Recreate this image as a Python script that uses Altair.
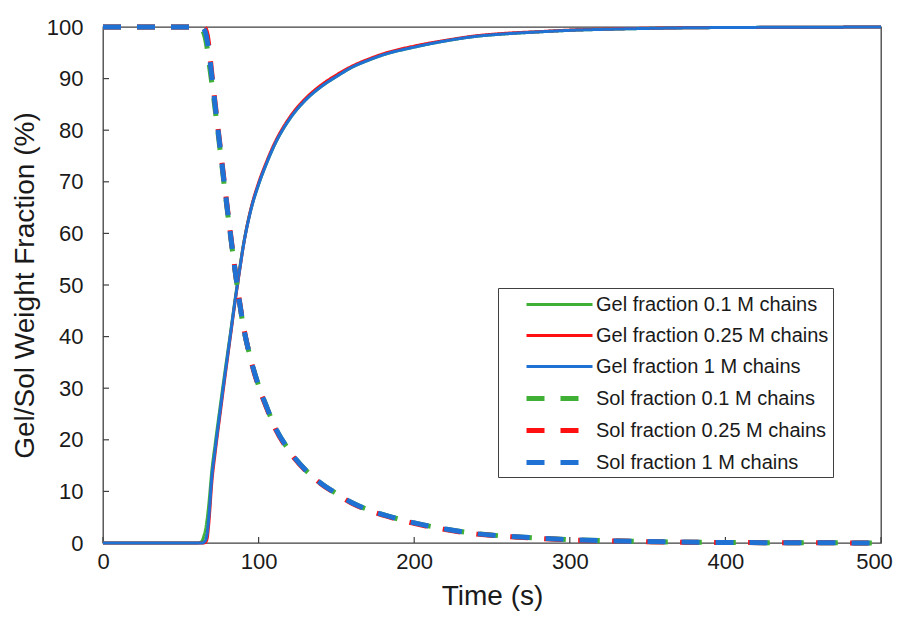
import altair as alt
import pandas as pd

# ---- data ----
time_s = [0, 60, 63, 64, 65, 66, 67, 68, 70, 72, 75, 78, 80, 82, 85, 88, 90, 95, 100, 105,
          110, 120, 130, 140, 150, 160, 170, 180, 200, 220, 240, 260, 280, 300, 330, 360,
          400, 450, 500]

gel_01 = [0, 0, 0.2, 0.6, 1.5, 2.8, 4.8, 7.5, 14.2, 19, 25.8, 32.4, 36.7, 40.9, 47.5, 53.6, 57.4,
          64.6, 69.5, 73.5, 77, 82.2, 85.8, 88.4, 90.4, 92.2, 93.5, 94.6, 96.1, 97.3, 98.2,
          98.7, 99.05, 99.35, 99.6, 99.78, 99.9, 99.95, 100]
gel_025 = [0, 0, 0, 0, 0, 0.2, 1, 3.8, 12, 17.3, 24.4, 31.3, 35.8, 40.3, 47, 53.2, 57.2, 64.7,
           69.8, 73.8, 77.3, 82.5, 86.1, 88.7, 90.7, 92.4, 93.7, 94.8, 96.3, 97.4, 98.3, 98.8,
           99.1, 99.4, 99.65, 99.8, 99.9, 99.95, 100]
gel_1 = [0, 0, 0, 0, 0.2, 0.6, 2, 5, 13, 18, 25, 31.8, 36.2, 40.6, 47.2, 53.3, 57.2, 64.5, 69.5,
         73.5, 77, 82.2, 85.8, 88.4, 90.4, 92.2, 93.5, 94.6, 96.1, 97.3, 98.2, 98.7, 99.05,
         99.35, 99.6, 99.78, 99.9, 99.95, 100]

sol_01 = [100, 100, 99.8, 99.4, 98.7, 97.6, 95.8, 93.5, 89, 84.2, 76.8, 69.1, 64.2, 59.4, 52.5,
          46.1, 42.3, 35.6, 30.5, 26.5, 22.8, 17.8, 14.2, 11.6, 9.6, 7.8, 6.5, 5.5, 3.9, 2.7,
          1.8, 1.3, 0.95, 0.65, 0.4, 0.22, 0.1, 0.05, 0]
sol_025 = [100, 100, 100, 100, 99.9, 99.5, 98.4, 96.4, 90.8, 85.4, 77.6, 69.8, 64.7, 59.8,
           52.7, 46.3, 42.5, 35.5, 30.3, 26.3, 22.6, 17.6, 14.1, 11.5, 9.5, 7.7, 6.4, 5.4, 3.8,
           2.6, 1.75, 1.25, 0.9, 0.6, 0.38, 0.2, 0.1, 0.05, 0]
sol_1 = [100, 100, 100, 100, 99.6, 98.8, 97.3, 95.3, 90.3, 85, 77.3, 69.5, 64.5, 59.6, 52.6,
         46.2, 42.4, 35.6, 30.5, 26.5, 22.8, 17.8, 14.2, 11.6, 9.6, 7.8, 6.5, 5.5, 3.9, 2.7,
         1.8, 1.3, 0.95, 0.65, 0.4, 0.22, 0.1, 0.05, 0]

series_names = ["Gel fraction 0.1 M chains", "Gel fraction 0.25 M chains", "Gel fraction 1 M chains",
                "Sol fraction 0.1 M chains", "Sol fraction 0.25 M chains", "Sol fraction 1 M chains"]
series_values = [gel_01, gel_025, gel_1, sol_01, sol_025, sol_1]
series_colors = ["#3FAF36", "#FF1010", "#1F72D4", "#3FAF36", "#FF1010", "#1F72D4"]
series_dash = [[1, 0], [1, 0], [1, 0], [18, 16], [18, 16], [18, 16]]
series_width = [3, 3, 3, 5, 5, 5]

x_ticks = [0, 100, 200, 300, 400, 500]
y_ticks = [0, 10, 20, 30, 40, 50, 60, 70, 80, 90, 100]

rows = []
for name, vals in zip(series_names, series_values):
    for t, v in zip(time_s, vals):
        rows.append({"series": name, "t": t, "v": v})
df = pd.DataFrame(rows)

TXT = "#1a1a1a"
FRAME = "#404040"

x_axis = alt.Axis(values=x_ticks, ticks=False, domain=False, grid=False,
                  labelFontSize=22, labelPadding=8, labelColor=TXT,
                  labelOffset={"condition": {"test": "datum.value == 500", "value": -7}, "value": 0},
                  title="Time (s)", titleFontSize=28, titlePadding=10,
                  titleColor=TXT, titleFontWeight="normal", labelFlush=False)
y_axis = alt.Axis(values=y_ticks, ticks=False, domain=False, grid=False,
                  labelFontSize=22, labelPadding=20, labelColor=TXT,
                  title="Gel/Sol Weight Fraction (%)", titleFontSize=28,
                  titlePadding=7, titleColor=TXT, titleFontWeight="normal")
x_scale = alt.Scale(domain=[0, 500], nice=False, zero=False)
y_scale = alt.Scale(domain=[0, 100], nice=False)

lines = alt.Chart(df).mark_line(clip=False, strokeJoin="round", interpolate="monotone").encode(
    x=alt.X("t:Q", scale=x_scale, axis=x_axis),
    y=alt.Y("v:Q", scale=y_scale, axis=y_axis),
    color=alt.Color("series:N", sort=series_names,
                    scale=alt.Scale(domain=series_names, range=series_colors),
                    legend=alt.Legend(title=None, orient="none", legendX=395, legendY=261,
                                      symbolType="M-5,0H1", symbolSize=484,
                                      labelFontSize=20, labelColor=TXT, labelOffset=1,
                                      rowPadding=8, padding=4, symbolOffset=66,
                                      strokeColor=FRAME, labelLimit=400)),
    strokeDash=alt.StrokeDash("series:N", sort=series_names,
                              scale=alt.Scale(domain=series_names, range=series_dash),
                              legend=alt.Legend(title=None)),
    strokeWidth=alt.StrokeWidth("series:N", sort=series_names,
                                scale=alt.Scale(type="ordinal", domain=series_names,
                                                range=series_width),
                                legend=alt.Legend(title=None)),
    order=alt.Order("t:Q"),
)

xt = alt.Chart(pd.DataFrame({"t": x_ticks})).mark_rule(color=FRAME, strokeWidth=1.2).encode(
    x=alt.X("t:Q", scale=x_scale, axis=x_axis), y=alt.value(516), y2=alt.value(510))
yt = alt.Chart(pd.DataFrame({"v": y_ticks})).mark_rule(color=FRAME, strokeWidth=1.2).encode(
    y=alt.Y("v:Q", scale=y_scale, axis=y_axis), x=alt.value(0), x2=alt.value(6))

chart = alt.layer(xt, yt, lines).properties(
    width=778, height=516,
    autosize=alt.AutoSizeParams(type="none"),
    padding={"left": 95, "top": 19, "right": 12, "bottom": 68},
).configure(
    font="Liberation Sans",
).configure_view(
    stroke=FRAME, strokeWidth=1.3,
)

chart.save("out.html", embed_options={"renderer": "svg", "actions": False})
